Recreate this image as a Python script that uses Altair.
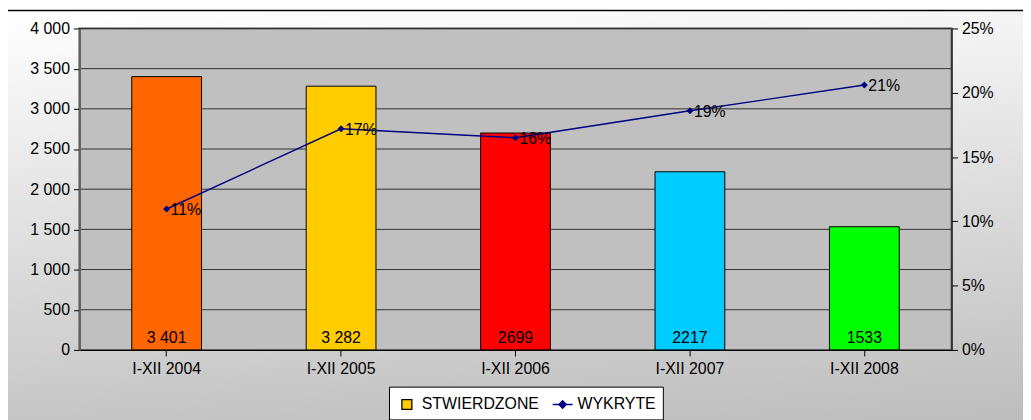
import altair as alt
import pandas as pd

categories = ["I-XII 2004", "I-XII 2005", "I-XII 2006", "I-XII 2007", "I-XII 2008"]
stwierdzone = [3401, 3282, 2699, 2217, 1533]
stwierdzone_labels = ["3 401", "3 282", "2699", "2217", "1533"]
bar_colors = ["#FF6600", "#FFCC00", "#FF0000", "#00CCFF", "#00FF00"]
wykryte = [0.1096, 0.172, 0.165, 0.186, 0.206]
wykryte_labels = ["11%", "17%", "16%", "19%", "21%"]
left_ticks = [0, 500, 1000, 1500, 2000, 2500, 3000, 3500, 4000]
right_ticks = [0, 0.05, 0.10, 0.15, 0.20, 0.25]
series = ["STWIERDZONE", "WYKRYTE"]
series_fill = ["#FFCC00", "#000080"]
series_stroke = ["#000000", "#000080"]

W, H = 879, 324
FONT = "Liberation Sans"
FS = 16

bars_df = pd.DataFrame({"cat": categories, "val": stwierdzone,
                        "lab": stwierdzone_labels, "col": bar_colors})
line_df = pd.DataFrame({"cat": categories, "pct": wykryte,
                        "lab": wykryte_labels, "series": "WYKRYTE"})
grid_df = pd.DataFrame({"t": left_ticks[1:]})
one = pd.DataFrame({"a": [0]})

xenc = alt.X("cat:N", sort=categories, title=None,
             scale=alt.Scale(paddingInner=0.6, paddingOuter=0.3),
             axis=alt.Axis(labelAngle=0, labelFont=FONT, labelFontSize=FS,
                           labelColor="black", domainColor="black",
                           tickColor="black", tickSize=6, labelPadding=5,
                           zindex=1))

left_scale = alt.Scale(domain=[0, 4000], nice=False)
left_axis = alt.Axis(values=left_ticks, title=None, grid=False,
                     labelExpr="replace(format(datum.value, ','), ',', ' ')",
                     labelFont=FONT, labelFontSize=FS, labelColor="black",
                     domainColor="#606060", domainWidth=2, tickColor="black",
                     tickSize=6, labelPadding=4, orient="left", zindex=1)
right_scale = alt.Scale(domain=[0, 0.25], nice=False)
right_axis = alt.Axis(values=right_ticks, format=".0%", title=None, grid=False,
                      labelFont=FONT, labelFontSize=FS, labelColor="black",
                      domainColor="black", tickColor="black", tickSize=6,
                      labelPadding=4, orient="right", zindex=1)

bg = alt.Chart(one).mark_rect(
    color={"gradient": "linear", "x1": 0, "y1": 0, "x2": 0.15, "y2": 1,
           "stops": [{"offset": 0, "color": "#FFFFFF"},
                     {"offset": 1, "color": "#BEBEBE"}]},
    stroke="black", strokeWidth=1.5
).encode(x=alt.value(-73), x2=alt.value(W + 100),
         y=alt.value(-18), y2=alt.value(H + 120))

plot_bg = alt.Chart(one).mark_rect(color="#C0C0C0", stroke="#606060",
                                   strokeWidth=2).encode(
    x=alt.value(0), x2=alt.value(W), y=alt.value(0), y2=alt.value(H))

grid = alt.Chart(grid_df).mark_rule(color="#303030", strokeWidth=1).encode(
    y=alt.Y("t:Q", scale=left_scale, axis=left_axis),
    x=alt.value(0), x2=alt.value(W))

bars = alt.Chart(bars_df).mark_bar(stroke="black", strokeWidth=1).encode(
    x=xenc,
    y=alt.Y("val:Q", scale=left_scale, axis=left_axis),
    color=alt.Color("col:N", scale=None, legend=None))

bar_text = alt.Chart(bars_df).mark_text(font=FONT, fontSize=FS, color="black",
                                        baseline="alphabetic", dy=-7).encode(
    x=alt.X("cat:N", sort=categories),
    y=alt.YDatum(0, scale=left_scale, axis=left_axis),
    text="lab:N")

left = alt.layer(grid, bars, bar_text)

sym_square = "M-0.5,-0.5H0.5V0.5H-0.5Z"
sym_line = "M-1,0H1M0,-0.38L0.38,0L0,0.38L-0.38,0Z"

line = alt.Chart(line_df).mark_line(strokeWidth=1.4, color="#000080").encode(
    x=alt.X("cat:N", sort=categories),
    y=alt.Y("pct:Q", scale=right_scale, axis=right_axis))

points = alt.Chart(line_df).mark_point(shape="diamond", filled=True, size=50,
                                       color="#000080", opacity=1).encode(
    x=alt.X("cat:N", sort=categories),
    y=alt.Y("pct:Q", scale=right_scale, axis=right_axis))

legend_def = alt.Legend(
    orient="none", legendX=312, legendY=361, direction="horizontal",
    fillColor="white", strokeColor="black", padding=7, symbolSize=400,
    symbolStrokeWidth=1.3, labelFont=FONT, labelFontSize=FS,
    labelColor="black", columnPadding=10, labelOffset=4, symbolOpacity=1,
    zindex=2)

legend_helper = alt.Chart(line_df).mark_point(filled=True, opacity=0).encode(
    x=alt.X("cat:N", sort=categories),
    y=alt.Y("pct:Q", scale=right_scale, axis=right_axis),
    color=alt.Color("series:N", title=None,
                    scale=alt.Scale(domain=series, range=series_fill),
                    legend=legend_def),
    stroke=alt.Stroke("series:N", title=None,
                      scale=alt.Scale(domain=series, range=series_stroke),
                      legend=legend_def),
    shape=alt.Shape("series:N", title=None,
                    scale=alt.Scale(domain=series, range=[sym_square, sym_line]),
                    legend=legend_def))

pct_text = alt.Chart(line_df).mark_text(font=FONT, fontSize=FS, color="black",
                                        align="left", baseline="middle",
                                        dx=4, dy=1).encode(
    x=alt.X("cat:N", sort=categories),
    y=alt.Y("pct:Q", scale=right_scale, axis=right_axis),
    text="lab:N")

right = alt.layer(line, points, pct_text, legend_helper)

chart = alt.layer(bg, plot_bg, left, right).resolve_scale(
    y="independent", color="independent", stroke="independent",
    shape="independent"
).properties(
    width=W, height=H,
    autosize=alt.AutoSizeParams(type="none"),
    padding={"left": 72, "top": 19, "right": 72, "bottom": 69},
    background="white"
).configure_view(stroke=None)

chart.save("out.html", embed_options={"renderer": "svg", "actions": False})
